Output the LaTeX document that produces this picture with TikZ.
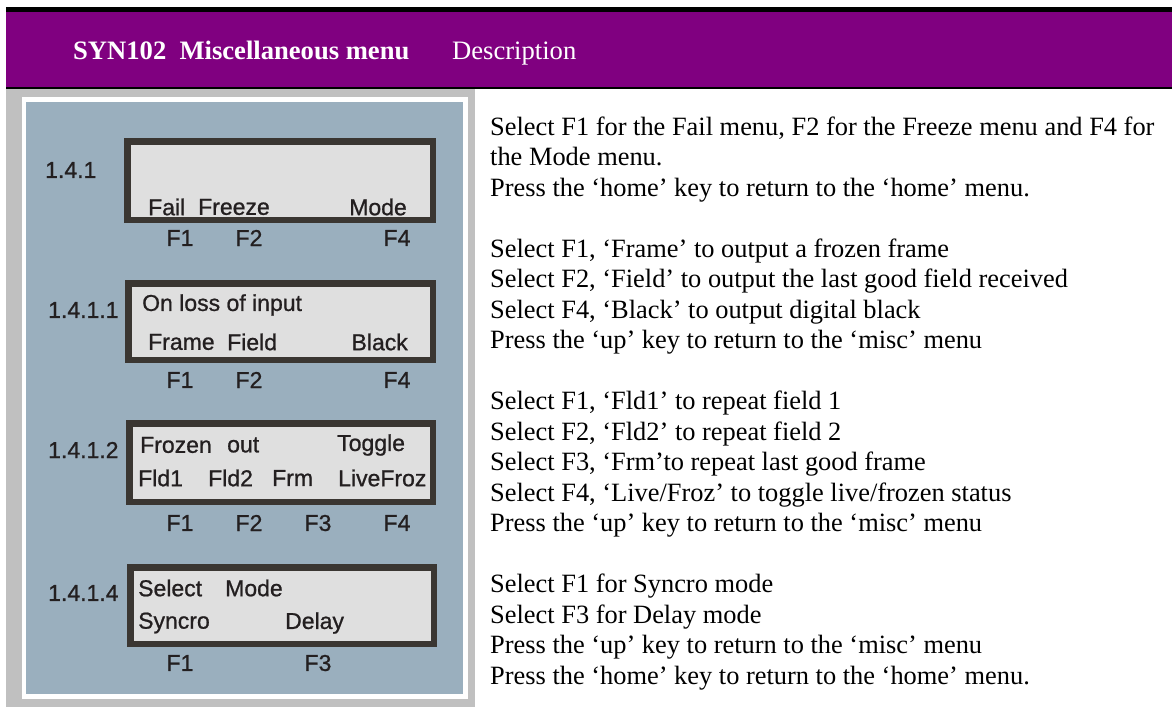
\documentclass[tikz,border=0pt]{standalone}
\usepackage{fontspec}
\setmainfont{Liberation Serif}
\newfontfamily\lcdfont[FakeBold=0.9]{Liberation Sans}
\definecolor{hdrpurple}{HTML}{800080}
\definecolor{panelgray}{HTML}{C0C0C0}
\definecolor{panelblue}{HTML}{9AAFBE}
\definecolor{lcdfill}{HTML}{DFDFDF}
\definecolor{lcdedge}{HTML}{3A3632}
\definecolor{lcdink}{HTML}{231F20}
\tikzset{
  lcdbox/.style={draw=lcdedge, fill=lcdfill, line width=6.5pt},
  lcdtxt/.style={inner sep=0pt, text=lcdink, font=\lcdfont\fontsize{23}{26}\selectfont},
  lw/.style={lcdtxt, anchor=west},
  le/.style={lcdtxt, anchor=east},
  lc/.style={lcdtxt, anchor=center},
  body/.style={inner sep=0pt, anchor=base west, font=\fontsize{26.4}{30}\selectfont},
  hdr/.style={inner sep=0pt, anchor=base west, text=white, font=\fontsize{26.6}{30}\selectfont}
}
\begin{document}
\begin{tikzpicture}[x=1pt,y=-1pt]
\useasboundingbox (0,0) rectangle (1172,707);
% header
\fill[black] (6,7) rectangle (1172,12);
\fill[hdrpurple] (6,12) rectangle (1172,87);
\fill[black] (6,87) rectangle (1172,89);
\node[hdr] (h1) at (73,59) {\bfseries SYN102\hspace{6.6pt} Miscellaneous menu};
\node[hdr] (h2) at (452,59) {Description};
% panel
\fill[panelgray] (6,89) rectangle (475,707);
\fill[white] (22,97) rectangle (468,699);
\fill[panelblue] (26,102) rectangle (463,694);
% LCD boxes
\draw[lcdbox] (127.25,141.25) rectangle (432.75,219.75);
\draw[lcdbox] (128.25,283.25) rectangle (432.75,359.75);
\draw[lcdbox] (129.25,423.25) rectangle (432.75,501.75);
\draw[lcdbox] (130.25,567.25) rectangle (433.75,643.75);
% labels
\node[lw] (l1) at (45,170) {1.4.1};
\node[lw] (l2) at (48,310) {1.4.1.1};
\node[lw] (l3) at (48,450) {1.4.1.2};
\node[lw] (l4) at (48,593) {1.4.1.4};
% box 1
\node[lw] (a1) at (148,207) {Fail};
\node[lw] (a2) at (198,207) {Freeze};
\node[le] (a3) at (407,207) {Mode};
\node[lc] (fa1) at (180,238) {F1};
\node[lc] (fa2) at (249,238) {F2};
\node[lc] (fa4) at (397,238) {F4};
% box 2
\node[lw] (b0) at (142,305) {On loss of input};
\node[lw] (b1) at (148,342) {Frame};
\node[lw] (b2) at (227,342) {Field};
\node[le] (b3) at (408,342) {Black};
\node[lc] (fb1) at (180,380) {F1};
\node[lc] (fb2) at (249,380) {F2};
\node[lc] (fb4) at (397,380) {F4};
% box 3
\node[lw] (c0) at (140,445) {Frozen};
\node[lw] (c1) at (227,445) {out};
\node[lw] (c2) at (337,445) {Toggle};
\node[lw] (c3) at (138,478) {Fld1};
\node[lw] (c4) at (208,478) {Fld2};
\node[lw] (c5) at (272,478) {Frm};
\node[lw] (c6) at (338,478) {LiveFroz};
\node[lc] (fc1) at (180,523) {F1};
\node[lc] (fc2) at (249,523) {F2};
\node[lc] (fc3) at (318,523) {F3};
\node[lc] (fc4) at (397,523) {F4};
% box 4
\node[lw] (d0) at (138,588) {Select};
\node[lw] (d1) at (225,588) {Mode};
\node[lw] (d2) at (138,623) {Syncro};
\node[lw] (d3) at (285,623) {Delay};
\node[lc] (fd1) at (180,663) {F1};
\node[lc] (fd3) at (318,663) {F3};
% description text
\foreach \i/\t in {
 0/{Select F1 for the Fail menu, F2 for the Freeze menu and F4 for},
 1/{the Mode menu.},
 2/{Press the ‘home’ key to return to the ‘home’ menu.},
 4/{Select F1, ‘Frame’ to output a frozen frame},
 5/{Select F2, ‘Field’ to output the last good field received},
 6/{Select F4, ‘Black’ to output digital black},
 7/{Press the ‘up’ key to return to the ‘misc’ menu},
 9/{Select F1, ‘Fld1’ to repeat field 1},
 10/{Select F2, ‘Fld2’ to repeat field 2},
 11/{Select F3, ‘Frm’to repeat last good frame},
 12/{Select F4, ‘Live/Froz’ to toggle live/frozen status},
 13/{Press the ‘up’ key to return to the ‘misc’ menu},
 15/{Select F1 for Syncro mode},
 16/{Select F3 for Delay mode},
 17/{Press the ‘up’ key to return to the ‘misc’ menu},
 18/{Press the ‘home’ key to return to the ‘home’ menu.}}
 {\node[body] (t\i) at (490,{135+30.5*\i}) {\t};}
\end{tikzpicture}
\end{document}
